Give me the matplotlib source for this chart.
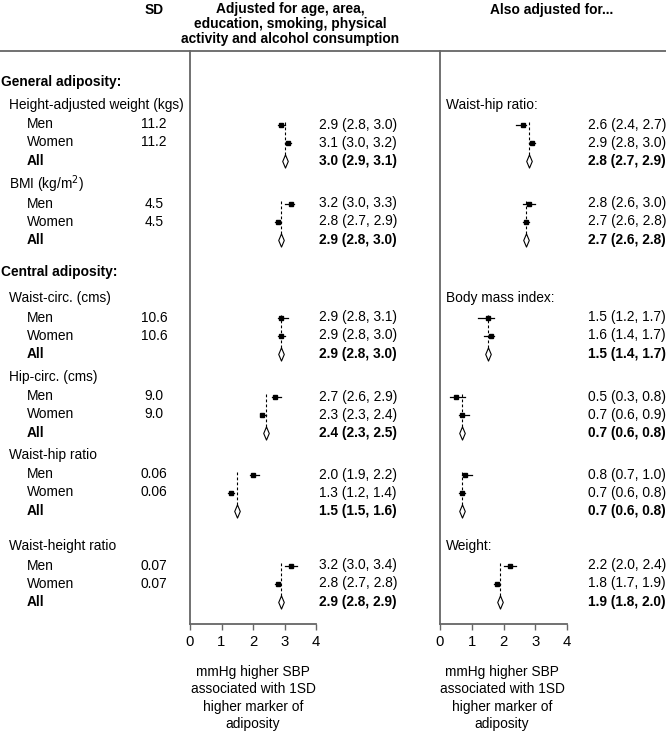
import matplotlib
matplotlib.use("Agg")
import matplotlib.pyplot as plt

plt.rcParams['font.family'] = ['Liberation Sans', 'DejaVu Sans']

# groups (left side labels) and SD
groups = ["Height-adjusted weight (kgs)", "BMI (kg/m$^2$)", "Waist-circ. (cms)",
          "Hip-circ. (cms)", "Waist-hip ratio", "Waist-height ratio"]
sds = ["11.2", "4.5", "10.6", "9.0", "0.06", "0.07"]
subgroups = ["Men", "Women", "All"]

# left panel: adjusted for age, area, education, ... (est, lo, hi) for Men, Women, All
left_est = [[2.9, 3.1, 3.0], [3.2, 2.8, 2.9], [2.9, 2.9, 2.9],
            [2.7, 2.3, 2.4], [2.0, 1.3, 1.5], [3.2, 2.8, 2.9]]
left_lo = [[2.8, 3.0, 2.9], [3.0, 2.7, 2.8], [2.8, 2.8, 2.8],
           [2.6, 2.3, 2.3], [1.9, 1.2, 1.5], [3.0, 2.7, 2.8]]
left_hi = [[3.0, 3.2, 3.1], [3.3, 2.9, 3.0], [3.1, 3.0, 3.0],
           [2.9, 2.4, 2.5], [2.2, 1.4, 1.6], [3.4, 2.8, 2.9]]

# right panel: also adjusted for...
right_labels = ["Waist-hip ratio:", "", "Body mass index:", "", "", "Weight:"]
right_est = [[2.6, 2.9, 2.8], [2.8, 2.7, 2.7], [1.5, 1.6, 1.5],
             [0.5, 0.7, 0.7], [0.8, 0.7, 0.7], [2.2, 1.8, 1.9]]
right_lo = [[2.4, 2.8, 2.7], [2.6, 2.6, 2.6], [1.2, 1.4, 1.4],
            [0.3, 0.6, 0.6], [0.7, 0.6, 0.6], [2.0, 1.7, 1.8]]
right_hi = [[2.7, 3.0, 2.9], [3.0, 2.8, 2.8], [1.7, 1.7, 1.7],
            [0.8, 0.9, 0.8], [1.0, 0.8, 0.8], [2.4, 1.9, 2.0]]

sections = ["General adiposity:", "Central adiposity:"]
xticks = [0, 1, 2, 3, 4]
xlabel = "mmHg higher SBP\nassociated with 1SD\nhigher marker of\nadiposity"

# layout in pixels
W, H = 666, 731
group_y = [105, 184, 298, 377, 455, 546]
section_y = [82, 272]
row_off = [19.5, 37.5, 56]
top_y, bot_y = 51, 624
FS = 9.9
spine_col = "#666666"

fig = plt.figure(figsize=(W / 100, H / 100), dpi=100)
bg = fig.add_axes([0, 0, 1, 1])
bg.set_xlim(0, W)
bg.set_ylim(H, 0)
bg.axis("off")

# header
bg.text(154, 10, "SD", ha="center", va="center", fontsize=FS, fontweight="bold")
bg.text(290, 24, "Adjusted for age, area,\neducation, smoking, physical\nactivity and alcohol consumption",
        ha="center", va="center", fontsize=FS, fontweight="bold", linespacing=1.12)
bg.text(552, 10, "Also adjusted for...", ha="center", va="center", fontsize=FS, fontweight="bold")
bg.plot([0, W], [top_y, top_y], color=spine_col, lw=1.3)

for s, y in zip(sections, section_y):
    bg.text(1, y, s, ha="left", va="center", fontsize=FS, fontweight="bold")

for gi, g in enumerate(groups):
    gy = group_y[gi]
    bg.text(9, gy, g, ha="left", va="center", fontsize=FS)
    bg.text(446, gy, right_labels[gi], ha="left", va="center", fontsize=FS)
    for si, sub in enumerate(subgroups):
        y = gy + row_off[si]
        bold = "bold" if sub == "All" else "normal"
        bg.text(27, y, sub, ha="left", va="center", fontsize=FS, fontweight=bold)
        if sub != "All":
            bg.text(154, y, sds[gi], ha="center", va="center", fontsize=FS)
        e, l, h = left_est[gi][si], left_lo[gi][si], left_hi[gi][si]
        bg.text(319, y, f"{e:.1f} ({l:.1f}, {h:.1f})", ha="left", va="center",
                fontsize=FS, fontweight=bold)
        e, l, h = right_est[gi][si], right_lo[gi][si], right_hi[gi][si]
        bg.text(588, y, f"{e:.1f} ({l:.1f}, {h:.1f})", ha="left", va="center",
                fontsize=FS, fontweight=bold)

bg.text(253, 698, xlabel, ha="center", va="center", fontsize=FS, linespacing=1.3)
bg.text(502, 698, xlabel, ha="center", va="center", fontsize=FS, linespacing=1.3)

diamond = [(0, 1), (0.42, 0), (0, -1), (-0.42, 0), (0, 1)]


def forest(x0, x1, est, lo, hi):
    ax = fig.add_axes([x0 / W, (H - bot_y) / H, (x1 - x0) / W, (bot_y - top_y) / H])
    ax.set_xlim(0, 4)
    ax.set_ylim(bot_y, top_y)
    ax.patch.set_visible(False)
    for side in ["top", "right"]:
        ax.spines[side].set_visible(False)
    for side in ["left", "bottom"]:
        ax.spines[side].set_color(spine_col)
        ax.spines[side].set_linewidth(1.3)
    ax.spines["bottom"].set_bounds(0, 4)
    ax.set_yticks([])
    ax.set_xticks(xticks)
    ax.tick_params(axis="x", length=4, width=1, color=spine_col, labelsize=FS + 0.8, pad=4)
    for gi in range(len(est)):
        gy = group_y[gi]
        ya = gy + row_off[2]
        ax.plot([est[gi][2], est[gi][2]], [gy + row_off[0] - 3, ya - 6],
                color="black", lw=0.8, dashes=(2.5, 2))
        for si in range(2):
            y = gy + row_off[si]
            ax.plot([lo[gi][si], hi[gi][si]], [y, y], color="black", lw=0.9)
            ax.plot(est[gi][si], y, marker="s", ms=2.2, color="black")
        ax.plot(est[gi][2], ya, marker=diamond, ms=9.5, mfc="white", mec="black", mew=0.8)
    return ax


forest(190, 316, left_est, left_lo, left_hi)
forest(440, 567, right_est, right_lo, right_hi)

fig.savefig("out.png", dpi=100)
